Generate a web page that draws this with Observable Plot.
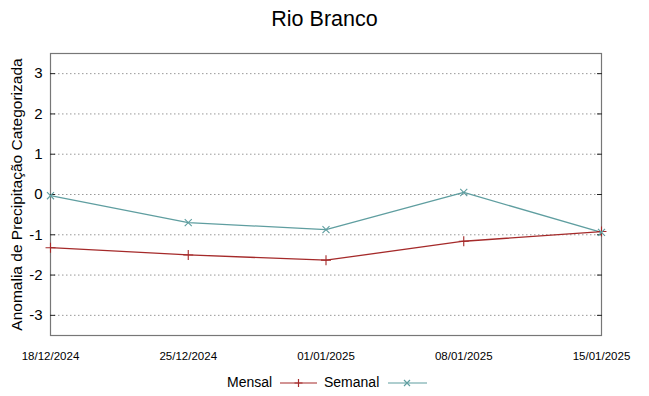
<!DOCTYPE html>
<html><head><meta charset="utf-8">
<script src="https://cdn.jsdelivr.net/npm/d3@7"></script>
<script src="https://cdn.jsdelivr.net/npm/@observablehq/plot@0.6"></script>
<style>
body{margin:0;background:#fff;font-family:"Liberation Sans",Arial,sans-serif;}
#wrap{width:649px;height:396px;position:relative;}
#title{height:40px;line-height:38px;text-align:center;font-size:21.5px;color:#000;}
#legend{position:absolute;top:372px;left:0;width:649px;height:22px;font-size:14px;}
#legend span{position:absolute;top:2px;}
#legend svg{position:absolute;top:0;}
g[aria-label="y-axis label"] text{font-size:15.5px;}
</style></head>
<body><div id="wrap"><div id="title">Rio Branco</div><div id="chart"></div>
<div id="legend">
<span style="left:227px">Mensal</span>
<svg style="left:279px" width="40" height="22"><line x1="1" x2="38" y1="11" y2="11" stroke="#a52a2a" stroke-width="1.2"/><path d="M19.5,7V15M15.5,11H23.5" stroke="#a52a2a" stroke-width="1.2"/></svg>
<span style="left:324px">Semanal</span>
<svg style="left:387px" width="42" height="22"><line x1="1" x2="40" y1="11" y2="11" stroke="#5f9ea0" stroke-width="1.2"/><path d="M17,8L23,14M23,8L17,14" stroke="#5f9ea0" stroke-width="1.2"/></svg>
</div></div>
<script>
const dates = ["2024-12-18","2024-12-25","2025-01-01","2025-01-08","2025-01-15"];
const mensal = [-1.32,-1.50,-1.63,-1.16,-0.92];
const semanal = [-0.03,-0.70,-0.87,0.05,-0.94];
const yTicks = [-3,-2,-1,0,1,2,3];
const seriesNames = ["Mensal","Semanal"];
const colors = ["#a52a2a","#5f9ea0"];

const dt = dates.map(d => new Date(d + "T00:00:00Z"));
const rows = [
  ...dt.map((d,i)=>({date:d, v:mensal[i], s:seriesNames[0]})),
  ...dt.map((d,i)=>({date:d, v:semanal[i], s:seriesNames[1]}))
];
const fmt = d3.utcFormat("%d/%m/%Y");
const chart = Plot.plot({
  width:649, height:332,
  marginLeft:50, marginRight:48, marginTop:13, marginBottom:37,
  style:{fontFamily:"'Liberation Sans',Arial,sans-serif", background:"#fff"},
  x:{type:"utc", domain:[dt[0], dt[dt.length-1]]},
  y:{domain:[-3.5,3.5]},
  color:{domain:seriesNames, range:colors},
  marks:[
    Plot.gridY(yTicks, {stroke:"#999", strokeOpacity:1, strokeDasharray:"1.5,2.5"}),
    Plot.frame({stroke:"#777", strokeWidth:1.2}),
    Plot.axisY(yTicks, {anchor:"left", tickSize:0, tickPadding:8, fontSize:15, tickFormat:d=>String(d), label:"Anomalia de Precipitação Categorizada", labelAnchor:"center", labelArrow:"none", labelOffset:40}),
    Plot.axisY(yTicks, {anchor:"left", tickSize:-5, text:null, label:null, stroke:"#222"}),
    Plot.axisY(yTicks, {anchor:"right", tickSize:-5, text:null, label:null, stroke:"#222"}),
    Plot.axisX(dt, {anchor:"bottom", tickSize:0, tickPadding:16, tickFormat:fmt, fontSize:11.5, label:null, fontStretch:"condensed", fontFamily:"'Liberation Sans Narrow','Liberation Sans',Arial,sans-serif"}),
    Plot.line(rows, {x:"date", y:"v", z:"s", stroke:"s", strokeWidth:1.3}),
    Plot.dot(rows.filter(r=>r.s==="Mensal"), {x:"date", y:"v", stroke:"s", symbol:"plus", r:3.3, strokeWidth:1.1}),
    Plot.dot(rows.filter(r=>r.s==="Semanal"), {x:"date", y:"v", stroke:"s", symbol:"times", r:3.3, strokeWidth:1.1})
  ]
});
document.getElementById("chart").appendChild(chart);
</script></body></html>
